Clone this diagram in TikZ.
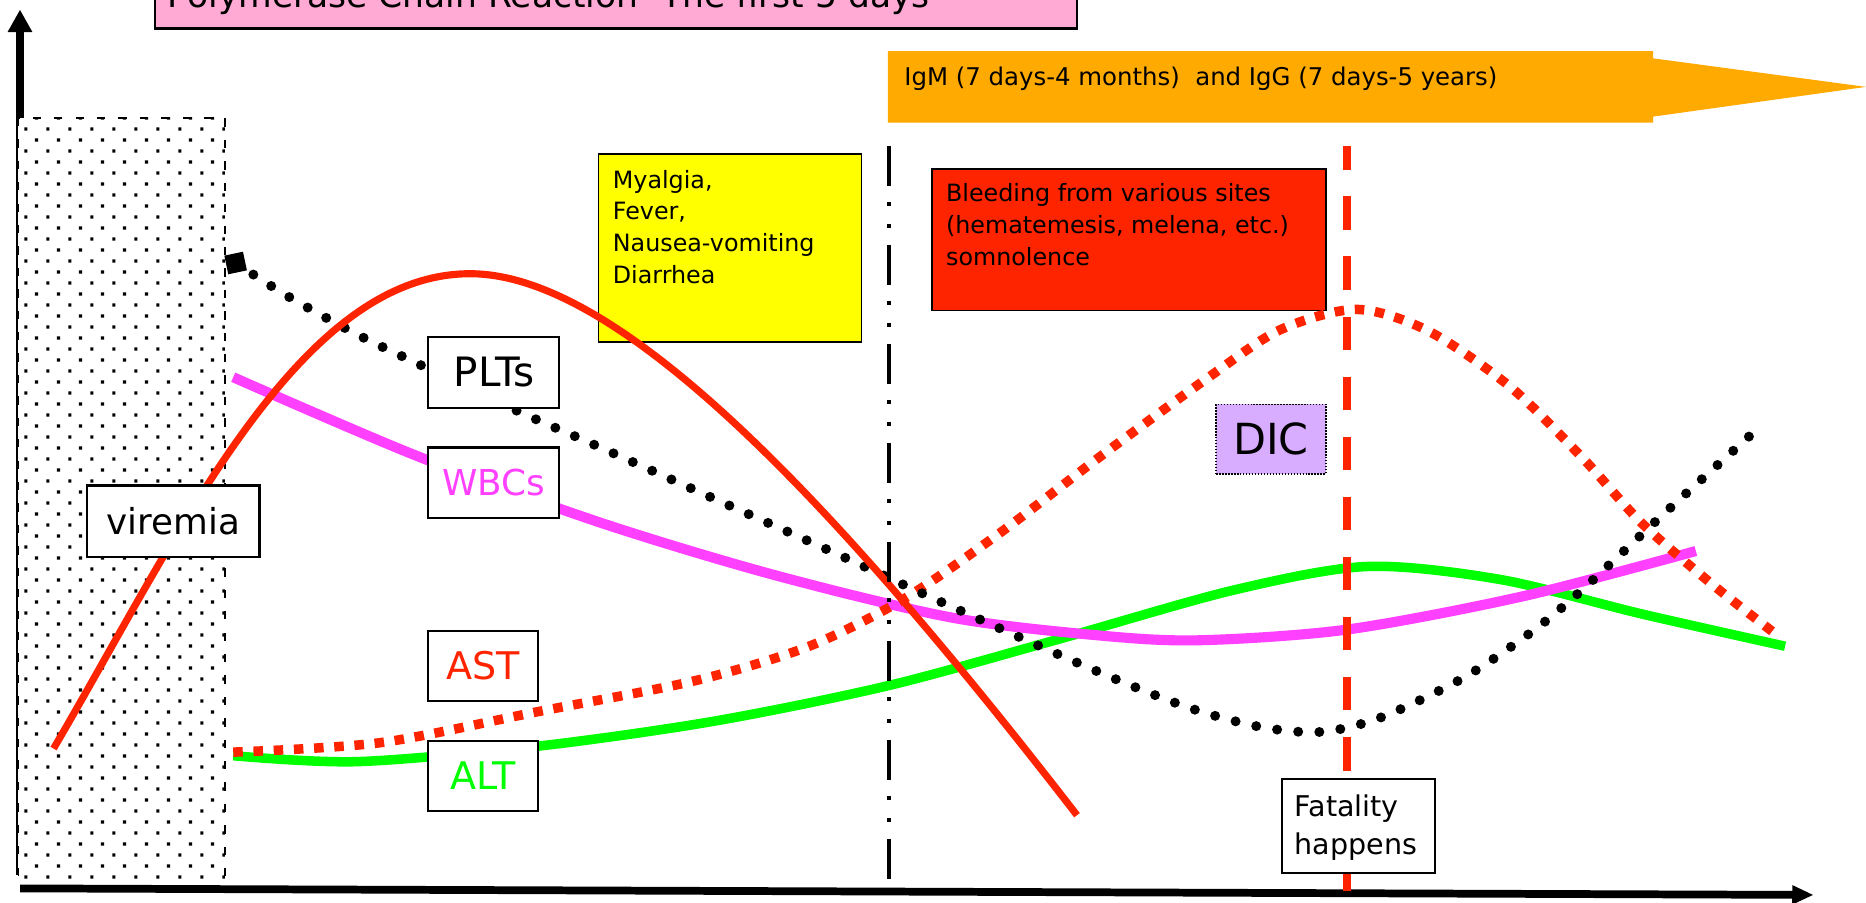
\documentclass[tikz,border=0pt]{standalone}
\usepackage{fontspec}
\setmainfont{DejaVu Sans}
\usetikzlibrary{arrows.meta,patterns.meta}

\definecolor{pcrpink}{RGB}{255,170,212}
\definecolor{abamber}{RGB}{255,170,0}
\definecolor{symyellow}{RGB}{255,255,0}
\definecolor{bleedred}{RGB}{255,36,0}
\definecolor{wbcmagenta}{RGB}{255,64,255}
\definecolor{altgreen}{RGB}{0,255,0}
\definecolor{diclilac}{RGB}{216,172,255}

\newcommand\setfs[2]{\fontsize{#1}{#2}\selectfont}

% stippled fill for the viremia band
\tikzdeclarepattern{
  name=stipple,
  type=uncolored,
  bounding box={(0pt,0pt) and (18.5pt,18.4pt)},
  tile size={(18.5pt,18.4pt)},
  code={
    \fill (2pt,2pt) rectangle (4.8pt,4.8pt);
    \fill (11.25pt,11.2pt) rectangle (14.05pt,14pt);
  }
}

\begin{document}
\begin{tikzpicture}[x=1pt,y=-1pt,
  every node/.style={inner sep=0pt, outer sep=0pt},
  tagbox/.style={draw=black, line width=1.8pt, fill=white, rectangle},
  notebox/.style={draw=black, line width=1.3pt, rectangle, anchor=north west},
  notetext/.style={align=left, anchor=north west, font=\setfs{20pt}{26.6pt}},
  curve/.style={line join=round},
  dotted curve/.style={line width=8.4pt, line cap=round, dash pattern=on 0pt off 17.8pt},
  square dots/.style={line width=8pt, dash pattern=on 8pt off 9pt}
]
\useasboundingbox (0,0) rectangle (1568,758);
\clip (0,0) rectangle (1568,758);
\fill[white] (0,0) rectangle (1568,758);

% vertical axis (partly hidden by the band)
\coordinate (yaxis-bot) at (16.8,735);
\coordinate (yaxis-top) at (16.8,8);
\draw[line width=6.5pt, -{Triangle[length=19pt,width=19.5pt]}] (yaxis-bot) -- (yaxis-top);

% viremia band
\fill[white] (15.5,99) rectangle (189,745);
\fill[pattern=stipple, pattern color=black] (15.5,99) rectangle (189,745);
\draw[line width=1.5pt, dash pattern=on 7pt off 11pt] (15.5,99) rectangle (189,745);

% horizontal axis
\coordinate (xaxis-left) at (17,746.5);
\coordinate (xaxis-right) at (1524,752);
\draw[line width=6.5pt, -{Triangle[length=18pt,width=15pt]}] (xaxis-left) -- (xaxis-right);

% PCR banner
\node[draw=black, line width=2pt, fill=pcrpink, minimum width=775pt, minimum height=60pt, anchor=south west] (pcr) at (130,24) {};
\node[anchor=base west, font=\setfs{29pt}{34pt}] (pcrtext) at (141,6) {Polymerase Chain Reaction- The first 5 days};

% antibody arrow
\fill[abamber] (746,43) -- (1389,43) -- (1389,49) -- (1568,73) -- (1389,98) -- (1389,103) -- (746,103) -- cycle;
\node[anchor=base west, font=\setfs{20.5pt}{24pt}] (igtext) at (760,71.5) {IgM (7 days-4 months)~ and IgG (7 days-5 years)};

% symptom boxes
\node[notebox, fill=symyellow, minimum width=221pt, minimum height=158pt] (symptoms) at (503,129.5) {};
\node[notetext] (symptomtext) at (515,143) {Myalgia,\\Fever,\\Nausea-vomiting\\Diarrhea};
\node[notebox, fill=bleedred, minimum width=331pt, minimum height=119pt] (bleeding) at (783,142) {};
\node[notetext] (bleedtext) at (795,154.5) {Bleeding from various sites\\(hematemesis, melena, etc.)\\somnolence};

% ALT
\draw[curve, altgreen, line width=8pt] plot[smooth] coordinates {(196,635) (300,640) (452,627) (600,606) (747,576) (890,537) (1036,496) (1149,476) (1261,487) (1380,516) (1500,543)};
% WBCs
\draw[curve, wbcmagenta, line width=8.5pt] plot[smooth] coordinates {(196,317) (350,383) (504,439) (650,483) (800,519) (924,534) (1008,538) (1132,529) (1280,501) (1425,463)};
% AST
\draw[curve, bleedred, square dots] plot[smooth] coordinates {(196,632) (320,624) (452,598) (584,572) (680,543) (760,503) (840,448) (924,384) (1017,316) (1076,277) (1140,260) (1200,278) (1269,325) (1330,385) (1380,440) (1440,492) (1495,535)};
% PLTs
\node[fill=black, minimum size=16pt, rotate=12] (pltstart) at (198,221) {};
\draw[curve, black, dotted curve] plot[smooth] coordinates {(198,221) (242,249) (300,281) (354,307) (434,345) (500,374) (600,419) (700,464) (800,510) (924,565) (1000,595) (1060,611) (1110,615) (1160,603) (1229,570) (1287,531) (1329,496) (1400,430) (1475,362)};
% viremia
\draw[curve, bleedred, line width=6pt] (45,629) .. controls (150,450) and (250,230) .. (395,230) .. controls (520,230) and (700,420) .. (905,685);

% phase markers
\coordinate (ig-top) at (747,123);
\coordinate (ig-bot) at (747,750);
\draw[line width=4pt, dash pattern=on 33pt off 14pt on 3.4pt off 14.8pt on 3.4pt off 14.6pt] (ig-top) -- (ig-bot);
\coordinate (fatal-top) at (1132,123);
\coordinate (fatal-bot) at (1132,754);
\draw[bleedred, line width=7pt, dash pattern=on 28pt off 22.5pt, dash phase=8.5pt] (fatal-top) -- (fatal-bot);

% labels
\node[tagbox, minimum width=145pt, minimum height=60pt, font=\setfs{30pt}{36pt}] (viremia) at (145.5,438) {viremia};
\node[tagbox, minimum width=110pt, minimum height=60pt, font=\setfs{34pt}{40pt}] (plts) at (415,313) {PLTs};
\node[tagbox, minimum width=110pt, minimum height=59pt, font=\setfs{30pt}{36pt}, text=wbcmagenta] (wbcs) at (415,405.5) {WBCs};
\node[tagbox, minimum width=92pt, minimum height=59pt, font=\setfs{32pt}{38pt}, text=bleedred] (ast) at (406,559.5) {AST};
\node[tagbox, minimum width=92pt, minimum height=59pt, font=\setfs{32pt}{38pt}, text=altgreen] (alt) at (406,652) {ALT};
\node[draw=black, line width=1.3pt, dash pattern=on 1.2pt off 1.3pt, fill=diclilac, minimum width=92pt, minimum height=58.5pt, font=\setfs{36pt}{40pt}] (dic) at (1068,369) {DIC};
\node[tagbox, minimum width=129pt, minimum height=79pt] (fatal) at (1141.5,694) {};
\node[align=left, anchor=north west, font=\setfs{24pt}{32pt}] (fataltext) at (1088,668) {Fatality\\happens};
\end{tikzpicture}
\end{document}
